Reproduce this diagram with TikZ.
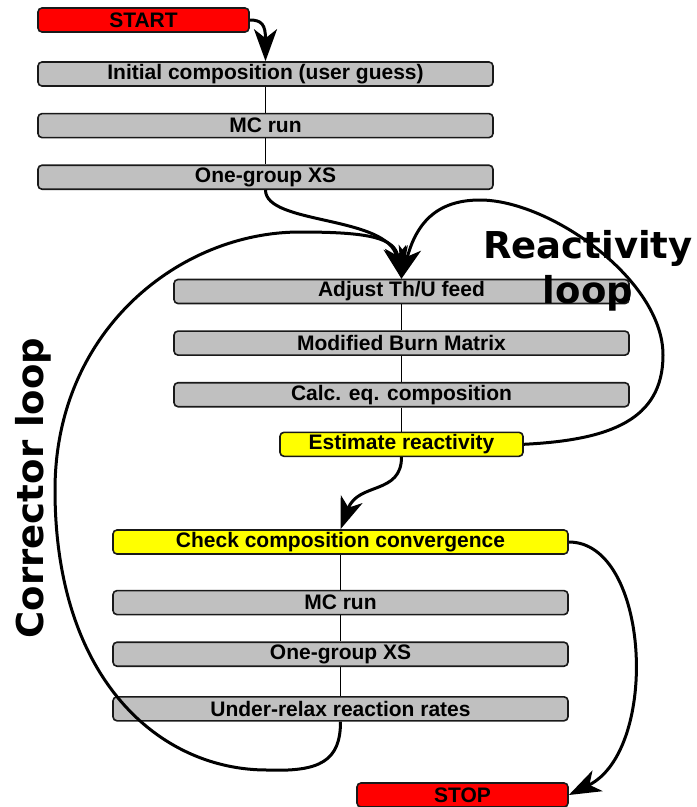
\documentclass[tikz,border=0pt]{standalone}
\usepackage{fontspec}
\setmainfont{Liberation Sans}
\newfontfamily\loopfont{DejaVu Sans}
\usetikzlibrary{arrows.meta, positioning}

\definecolor{boxgray}{HTML}{C0C0C0}
\definecolor{boxred}{HTML}{FF0000}
\definecolor{boxyellow}{HTML}{FFFF00}

\tikzset{
    box/.style={draw=black!90, line width=1.6pt, rounded corners=4pt, fill=boxgray,
        minimum width=455pt, minimum height=24pt, inner sep=0pt,
        font=\fontsize{21}{24}\selectfont\bfseries},
    endbox/.style={box, fill=boxred, minimum width=211pt},
    testbox/.style={box, fill=boxyellow},
    stack/.style={line width=1.8pt},
    flow/.style={line width=3pt, -{Stealth[length=32pt 0, width=23pt 0, inset=9pt 0]}},
    looplabel/.style={font=\loopfont\fontsize{37}{45}\selectfont\bfseries, align=center}
}

\begin{document}
\begin{tikzpicture}[x=1pt, y=-1pt]
    \useasboundingbox (0,0) rectangle (697,807);
    % first pass
    \node [endbox] (start) at (143.5,20) {START};
    \node [box] (init) at (265.5,74) {Initial composition (user guess)};
    \node [box, below=26pt of init] (mc1) {MC run};
    \node [box, below=26pt of mc1] (xs1) {One-group XS};

    % reactivity loop
    \node [box] (adj) at (401.5,291.5) {Adjust Th/U feed};
    \node [box, below=26pt of adj] (burn) {Modified Burn Matrix};
    \node [box, below=26pt of burn] (calc) {Calc. eq. composition};
    \node [testbox, minimum width=243pt, below=24pt of calc] (est) {Estimate reactivity};

    % corrector loop
    \node [testbox] (chk) at (340.5,542) {Check composition convergence};
    \node [box, below=35pt of chk] (mc2) {MC run};
    \node [box, below=26pt of mc2] (xs2) {One-group XS};
    \node [box, below=29pt of xs2] (relax) {Under-relax reaction rates};
    \node [endbox] (stop) at (462.5,795) {STOP};

    \draw [stack] (init) -- (mc1);
    \draw [stack] (mc1) -- (xs1);
    \draw [stack] (adj) -- (burn);
    \draw [stack] (burn) -- (calc);
    \draw [stack] (calc) -- (est);
    \draw [stack] (chk) -- (mc2);
    \draw [stack] (mc2) -- (xs2);
    \draw [stack] (xs2) -- (relax);

    \node [looplabel] (rlabel) at (588,271) {Reactivity\\loop};
    \node [looplabel, rotate=90, anchor=base] (clabel) at (43,488) {Corrector loop};

    \draw [flow] (start.east) .. controls (262,20) and (265.5,25) .. (init.north);
    \draw [flow] (xs1.south) .. controls (265.5,225) and (388,215) .. (adj.north);
    \draw [flow] (est.east) .. controls (610,440) and (663,420) .. (663,355)
        .. controls (663,280) and (550,200) .. (480,200)
        .. controls (435,200) and (416,225) .. (adj.north);
    \draw [flow] (est.south) .. controls (401.5,495) and (358,482) .. (chk.north);
    \draw [flow] (relax.south) .. controls (340.5,761) and (320,772) .. (267,770)
        .. controls (160,770) and (55,680) .. (55,490)
        .. controls (55,330) and (180,232) .. (300,232)
        .. controls (370,232) and (395,238) .. (adj.north);
    \draw [flow] (chk.east) .. controls (650,542) and (660,750) .. (stop.east);
\end{tikzpicture}
\end{document}
